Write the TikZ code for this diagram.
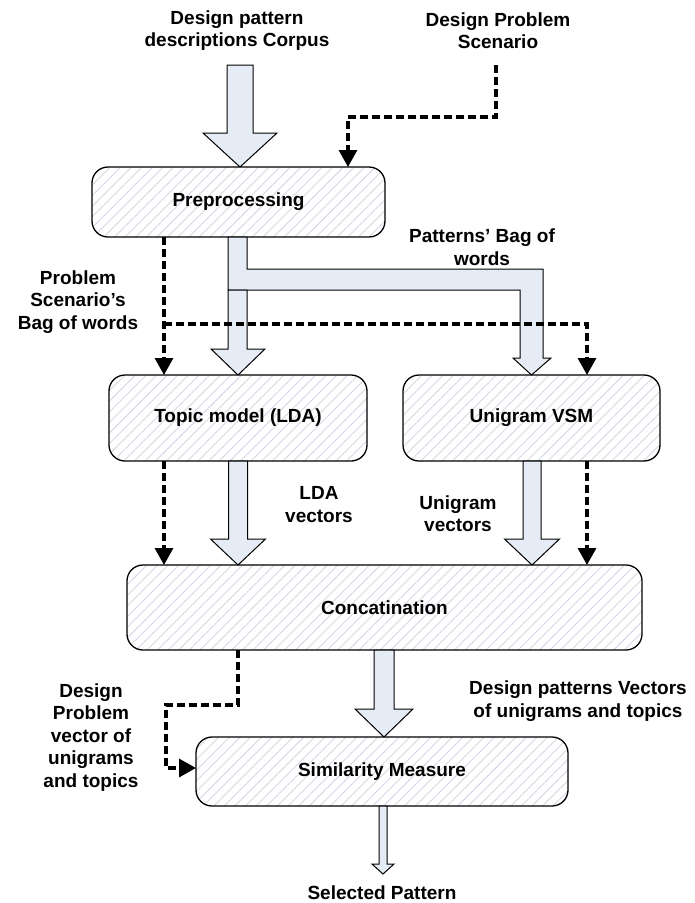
\documentclass[tikz,border=0pt]{standalone}
\usepackage{fontspec}
\setmainfont{Liberation Sans}
\usetikzlibrary{arrows.meta,patterns.meta,calc}
\definecolor{arrowfill}{HTML}{E6ECF5}
\definecolor{hatch}{HTML}{D3D8E3}
\newcommand{\blockdown}[6]{% x, ytop, ytip, half shaft, half head, head length
  \draw[blockarrow] (#1-#4,#2) -- (#1+#4,#2) -- (#1+#4,#3-#6) -- (#1+#5,#3-#6) -- (#1,#3) -- (#1-#5,#3-#6) -- (#1-#4,#3-#6) -- cycle;}
\begin{document}
\begin{tikzpicture}[x=1pt,y=-1pt,
  procbox/.style={draw=black,line width=1.3pt,rounded corners=16pt,
    pattern={Lines[angle=45,distance=7.5pt,line width=0.9pt]},pattern color=hatch,
    inner sep=0pt,outer sep=0pt,font=\bfseries\fontsize{19}{22.5}\selectfont},
  lbl/.style={align=center,inner sep=0pt,font=\bfseries\fontsize{19}{22.5}\selectfont},
  blockarrow/.style={draw=black,line width=1pt,fill=arrowfill,line join=miter},
  dashconn/.style={line width=3.3pt,dash pattern=on 8pt off 4pt,
    -{Triangle[length=17pt,width=18pt]}}]
\useasboundingbox (0,0) rectangle (695,903);

% boxes
\node[procbox,minimum width=293pt,minimum height=70pt] (prep) at (238.5,202) {Preprocessing};
\node[procbox,minimum width=258pt,minimum height=86pt] (lda) at (238,418) {Topic model (LDA)};
\node[procbox,minimum width=257pt,minimum height=86pt] (vsm) at (531.5,418) {Unigram VSM};
\node[procbox,minimum width=515pt,minimum height=85pt] (concat) at (384.5,607.5) {Concatination};
\node[procbox,minimum width=372pt,minimum height=69pt] (sim) at (382,771.5) {Similarity Measure};

% labels
\node[lbl] (corpus) at (237,30.5) {Design pattern\\descriptions Corpus};
\node[lbl] (scen) at (498,30.5) {Design Problem\\Scenario};
\node[lbl] (pbow) at (482,247) {Patterns' Bag of\\words};
\node[lbl] (sbow) at (78,302) {Problem\\Scenario’s\\Bag of words};
\node[lbl] (ldav) at (319,504.5) {LDA\\vectors};
\node[lbl] (univ) at (458,513.5) {Unigram\\vectors};
\node[lbl] (dpv) at (91,737.5) {Design\\Problem\\vector of\\unigrams\\and topics};
\node[lbl] (dpatv) at (578,701) {Design patterns Vectors\\of unigrams and topics};
\node[lbl] (sel) at (382,893) {Selected Pattern};

% block arrows
\blockdown{240}{65}{167}{13}{37}{34}
\draw[blockarrow] (228,237) -- (247,237) -- (247,269) -- (543,269) -- (543,358) -- (551,358)
  -- (vsm.north) -- (513,358) -- (520,358) -- (520,290) -- (228,290) -- cycle;
\draw[blockarrow] (228,290) -- (247,290) -- (247,349) -- (265,349) -- (lda.north)
  -- (211,349) -- (228,349) -- cycle;
\blockdown{238}{461}{565}{9.5}{27.5}{26}
\blockdown{532}{461}{565}{9}{27.5}{26}
\blockdown{384}{650}{737}{10}{29}{28}
\blockdown{383}{806}{874}{4}{11}{10}

% dashed connectors
\coordinate (sc0) at (496,65);
\coordinate (xL) at (164,0);
\coordinate (xR) at (587,0);
\coordinate (yB) at (0,324);
\coordinate (xP) at (348,0);
\draw[dashconn] (sc0) -- (496,117) -- (xP |- 0,117) -- (prep.north -| xP);
\draw[dashconn] (prep.south -| xL) -- (lda.north -| xL);
\draw[dashconn] (xL |- yB) -- (xR |- yB) -- (vsm.north -| xR);
\draw[dashconn] (lda.south -| xL) -- (concat.north -| xL);
\draw[dashconn] (vsm.south -| xR) -- (concat.north -| xR);
\coordinate (xC) at (238,0);
\draw[dashconn] (concat.south -| xC) -- (238,705) -- (166,705) -- (166,768) -- (sim.west |- 0,768);
\end{tikzpicture}
\end{document}
